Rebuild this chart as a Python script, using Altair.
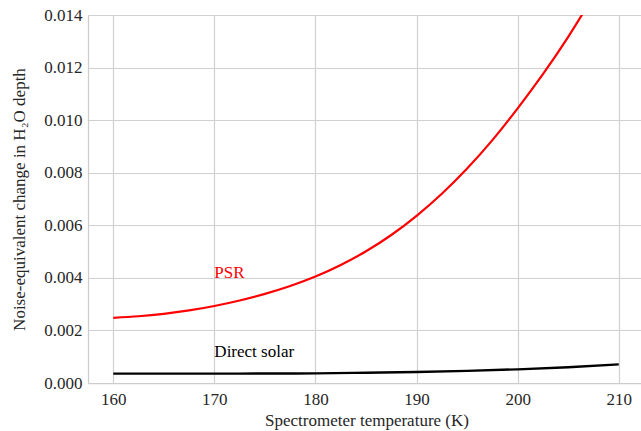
import altair as alt
import pandas as pd

temps_psr = [160, 162.5, 165, 167.5, 170, 172.5, 175, 177.5, 180, 182.5, 185,
             187.5, 190, 192.5, 195, 197.5, 200, 202.5, 205, 207.5, 210]
psr = [0.00248, 0.00254, 0.00263, 0.00276, 0.00293, 0.00314, 0.00339, 0.00369,
       0.00405, 0.00449, 0.00501, 0.00563, 0.00636, 0.00720, 0.00816, 0.00924,
       0.01045, 0.01175, 0.01317, 0.01475, 0.01650]

temps_solar = [160, 165, 170, 175, 180, 185, 190, 195, 200, 205, 210]
solar = [0.000355, 0.000355, 0.000357, 0.00036, 0.000368, 0.00039, 0.00042,
         0.00046, 0.00052, 0.0006, 0.00071]

labels = ["PSR", "Direct solar"]
label_x = [170, 170]
label_y = [0.004, 0.001]
label_colors = ["#ff0000", "#000000"]

x_ticks = [160, 170, 180, 190, 200, 210]
y_ticks = [0, 0.002, 0.004, 0.006, 0.008, 0.010, 0.012, 0.014]

FONT = "Liberation Serif"
FS = 17
TXT = "#262626"

df_psr = pd.DataFrame({"T": temps_psr, "v": psr})
df_sol = pd.DataFrame({"T": temps_solar, "v": solar})
df_lab = pd.DataFrame({"T": label_x, "v": label_y, "label": labels, "c": label_colors})

xscale = alt.Scale(domain=[157.5, 212.2], nice=False, zero=False)
yscale = alt.Scale(domain=[0, 0.014], nice=False)

xaxis = alt.Axis(
    values=x_ticks, format="d", title="Spectrometer temperature (K)",
    ticks=False, labelPadding=8, labelFontSize=FS, labelColor=TXT,
    titleFontSize=FS, titleColor=TXT, titleFontWeight="normal",
    titleBaseline="alphabetic", titleY=42, titleX=278.5, titleAnchor="start", titleAlign="center",
    grid=True, gridColor="#d0d0d0", gridWidth=1.2,
    domainColor="#cccccc", domainWidth=1.25,
)
yaxis = alt.Axis(
    values=y_ticks, format=".3f", title="Noise-equivalent change in H₂O depth",
    ticks=False, labelPadding=6, labelFontSize=FS, labelColor=TXT,
    titleFontSize=FS, titleColor=TXT, titleFontWeight="normal",
    titleAngle=270, titleBaseline="alphabetic", titleAlign="center",
    titleX=-63.5, titleY=184, titleAnchor="start",
    grid=True, gridColor="#d0d0d0", gridWidth=1.2,
    domainColor="#cccccc", domainWidth=1.25,
)

base_x = alt.X("T:Q", scale=xscale, axis=xaxis)
base_y = alt.Y("v:Q", scale=yscale, axis=yaxis)

line_psr = alt.Chart(df_psr).mark_line(color="#ff0000", strokeWidth=2.2, interpolate="natural", clip=True).encode(
    x=base_x, y=base_y)
line_sol = alt.Chart(df_sol).mark_line(color="#000000", strokeWidth=2.4, interpolate="natural", clip=True).encode(
    x=alt.X("T:Q", scale=xscale), y=alt.Y("v:Q", scale=yscale))
txt = alt.Chart(df_lab).mark_text(align="left", baseline="alphabetic", fontSize=FS).encode(
    x=alt.X("T:Q", scale=xscale), y=alt.Y("v:Q", scale=yscale),
    text="label:N", color=alt.Color("c:N", scale=None))

chart = alt.layer(line_psr, line_sol, txt).properties(
    width=553, height=368,
    autosize=alt.AutoSizeParams(type="none"),
    padding={"left": 88, "top": 15, "right": 0, "bottom": 48},
    background="white",
).configure(font=FONT).configure_view(stroke=None).configure_axis(
    labelFont=FONT, titleFont=FONT).configure_text(font=FONT)

chart.save("out.html", embed_options={"renderer": "svg", "actions": False})
